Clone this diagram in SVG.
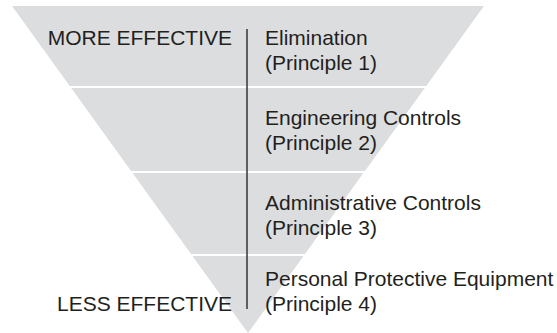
<svg xmlns="http://www.w3.org/2000/svg" width="557" height="333" viewBox="0 0 557 333">
<style>
text{font-family:"Liberation Sans",Arial,sans-serif;font-size:21px;fill:#231f20}
.r{text-anchor:end}
.sep{stroke:#ffffff;stroke-width:2}
</style>
<rect width="557" height="333" fill="#ffffff"/>
<g id="pyramid">
<polygon points="12,6 484,6 248,333" fill="#dcdddf"/>
<line class="sep" x1="0" y1="87" x2="557" y2="87"/>
<line class="sep" x1="0" y1="172" x2="557" y2="172"/>
<line class="sep" x1="0" y1="255" x2="557" y2="255"/>
</g>
<g id="connectors">
<line x1="247" y1="29" x2="247" y2="309" stroke="#333333" stroke-width="1.5"/>
</g>
<g id="more-effective"><text class="r" x="232" y="45">MORE EFFECTIVE</text></g>
<g id="less-effective"><text class="r" x="232" y="311">LESS EFFECTIVE</text></g>
<g id="elimination"><text x="265" y="45">Elimination</text><text x="265" y="70">(Principle 1)</text></g>
<g id="engineering"><text x="265" y="125">Engineering Controls</text><text x="265" y="150">(Principle 2)</text></g>
<g id="administrative"><text x="265" y="210">Administrative Controls</text><text x="265" y="235">(Principle 3)</text></g>
<g id="ppe"><text x="265" y="286">Personal Protective Equipment</text><text x="265" y="311">(Principle 4)</text></g>
</svg>
